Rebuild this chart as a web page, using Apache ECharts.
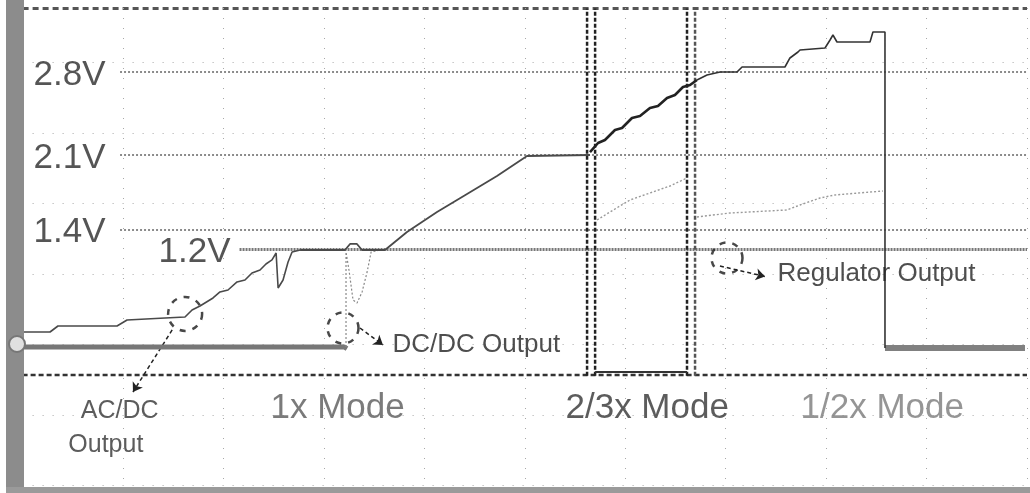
<!DOCTYPE html>
<html><head><meta charset="utf-8">
<script src="https://cdn.jsdelivr.net/npm/echarts@6/dist/echarts.min.js"></script>
<style>html,body{margin:0;padding:0;background:#fff}#c{width:1030px;height:493px}</style>
</head><body><div id="c"></div>
<script>
// x: horizontal screen divisions, y: vertical screen divisions (0 = lowest graticule line)
const gridX = [1, 2, 3, 4, 5, 6, 7, 8, 9, 10];
const gridY = [0, 1, 2, 3, 4, 5, 6];
const refNames = ['2.8V', '2.1V', '1.4V', '1.2V'];
const refLevels = [5.865, 4.688, 3.624, 3.355];
const refStart = [0.97, 0.97, 0.97, 2.16];
const floorLevel = 1.567;
const topLevel = 6.765;
const modeBounds = [5.62, 5.70, 6.615, 6.695];
const boxBottom = 1.61;

const acdcTrace = [[0,2.177],[0.273,2.177],[0.352,2.262],[0.94,2.262],[1.04,2.348],[1.418,2.376],[1.617,2.39],[1.687,2.489],[1.766,2.546],[1.896,2.66],[1.965,2.745],[2.045,2.773],[2.135,2.887],[2.214,2.915],[2.284,3.014],[2.364,3.057],[2.423,3.142],[2.483,3.199],[2.524,3.298],[2.544,2.801],[2.593,2.915],[2.643,3.17],[2.683,3.312],[2.763,3.34]];
const oneXTrace = [[2.763,3.34],[3.21,3.34],[3.26,3.426],[3.329,3.426],[3.379,3.34],[3.608,3.34],[3.827,3.596],[4.126,3.879],[4.425,4.135],[4.723,4.39],[5.022,4.674],[5.649,4.688]];
const twoThirdTrace = [[5.649,4.73],[5.729,4.858],[5.798,4.901],[5.898,5.043],[5.968,5.071],[6.067,5.213],[6.147,5.241],[6.246,5.355],[6.326,5.383],[6.416,5.496],[6.495,5.539],[6.575,5.652],[6.645,5.681],[6.714,5.752]];
const halfTrace = [[6.714,5.752],[6.814,5.823],[6.944,5.865],[7.113,5.865],[7.163,5.936],[7.59,5.936],[7.64,6.064],[7.72,6.149],[7.74,6.177],[7.989,6.206],[8.039,6.319],[8.068,6.39],[8.108,6.291],[8.437,6.291],[8.466,6.433],[8.586,6.433],[8.586,1.95]];
const secondTrace = [[5.719,3.766],[5.848,3.879],[6.047,4.05],[6.246,4.149],[6.445,4.248],[6.615,4.362],null,[6.714,3.809],[7.043,3.865],[7.61,3.908],[7.74,3.979],[7.939,4.078],[8.088,4.121],[8.566,4.177]];
const dcdcFlat = [[0,1.965],[3.2,1.965],[3.23,1.94]];
const dcdcStep = [[3.22,1.965],[3.22,3.312],[3.25,3.05],[3.29,2.63],[3.33,2.589],[3.38,2.745],[3.43,3.028],[3.47,3.312],[3.56,3.34]];
const regulatorLow = [[8.586,1.95],[9.98,1.95]];

const circleCenters = [[1.618,2.434],[3.19,2.234],[7.013,3.227]];
const circleSizes = [34, 31, 31];
const arrows = [[[1.489,2.206],[1.099,1.326]],[[3.359,2.234],[3.588,1.993]],[[6.943,3.113],[7.391,2.965]]];

const textNames = ['2.8V','2.1V','1.4V','1.2V','DC/DC Output','Regulator Output','AC/DC','Output','1x Mode','2/3x Mode','1/2x Mode'];
const textAnchors = [[0.104,5.823],[0.104,4.645],[0.104,3.596],[1.348,3.312],[3.678,1.993],[7.511,3.0],[0.575,1.057],[0.45,0.574],[2.463,1.099],[5.40,1.099],[7.74,1.099]];

const fontMain = 'Liberation Sans, Arial, sans-serif';
const textStyles = [
  {fontSize:35,color:'#2a2a2a'},{fontSize:35,color:'#2a2a2a'},{fontSize:35,color:'#2a2a2a'},{fontSize:35,color:'#2a2a2a'},
  {fontSize:26,color:'#222'},{fontSize:26,color:'#222'},
  {fontSize:25,color:'#333'},{fontSize:25,color:'#333'},
  {fontSize:35,color:'#5a5a5a'},{fontSize:35,color:'#333'},{fontSize:35,color:'#7a7a7a'}
];

function lineSeries(name, data, style, z) {
  return {name, type:'line', data, symbol:'none', silent:true, animation:false, z: z || 3,
    lineStyle: style, connectNulls:false};
}

const chart = echarts.init(document.getElementById('c'), null, {renderer:'canvas'});
const series = [];

// graticule
series.push({type:'line', data:[], silent:true, animation:false, z:1,
  markLine:{silent:true, symbol:'none', animation:false, label:{show:false},
    lineStyle:{color:'#a8a8a8', width:1, type:[1,9]},
    data: gridX.map(v=>({xAxis:v})).concat(gridY.map(v=>({yAxis:v})))}});

// reference level lines
series.push({type:'line', data:[], silent:true, animation:false, z:2,
  markLine:{silent:true, symbol:'none', animation:false, label:{show:false},
    data: refLevels.map((lv,i)=>[
      {coord:[refStart[i], lv], lineStyle: i===3 ? {color:'#777', width:3, type:[2,1]} : {color:'#666', width:1.5, type:[2,2]}},
      {coord:[10, lv]}])}});

// frame lines
series.push(lineSeries('floor', [[0,floorLevel],[10,floorLevel]], {color:'#333', width:2.5, type:[5,3]}, 4));
series.push(lineSeries('top', [[0,topLevel],[10,topLevel]], {color:'#555', width:3, type:[6,4]}, 4));
modeBounds.forEach((b,i)=>{
  series.push(lineSeries('bound'+i, [[b,floorLevel-0.01],[b,topLevel]], {color: i===3 ? '#555' : '#222', width:2.5, type:[4,2]}, 5));
});
series.push(lineSeries('boxBottom', [[modeBounds[1],boxBottom],[modeBounds[2],boxBottom]], {color:'#333', width:2}, 5));

// traces
series.push(lineSeries('DC/DC', dcdcFlat, {color:'#777', width:5}, 6));
series.push(lineSeries('DC/DC step', dcdcStep, {color:'#888', width:1.2, type:[2,2]}, 6));
series.push(lineSeries('AC/DC', acdcTrace, {color:'#4a4a4a', width:1.6}, 7));
series.push(lineSeries('1x', oneXTrace, {color:'#4a4a4a', width:1.8}, 7));
series.push(lineSeries('2/3x', twoThirdTrace, {color:'#222', width:2.6}, 7));
series.push(lineSeries('1/2x', halfTrace, {color:'#333', width:1.6}, 7));
series.push(lineSeries('second', secondTrace, {color:'#9a9a9a', width:1.4, type:[2,2]}, 6));
series.push(lineSeries('Regulator', regulatorLow, {color:'#808080', width:6}, 6));

// annotation circles
series.push({type:'scatter', silent:true, animation:false, z:8,
  data: circleCenters.map((c,i)=>({value:c, symbolSize:circleSizes[i]})),
  symbol:'circle',
  itemStyle:{color:'rgba(0,0,0,0)', borderColor:'#1a1a1a', borderWidth:2.5, borderType:[6,7]}});

// arrows
series.push({type:'line', data:[], silent:true, animation:false, z:8,
  markLine:{silent:true, animation:false, symbol:['none','arrow'], symbolSize:9, label:{show:false},
    lineStyle:{color:'#222', width:1.5, type:[4,3]},
    data: arrows.map(a=>[{coord:a[0]},{coord:a[1]}])}});

// text annotations
series.push({type:'scatter', silent:true, animation:false, z:9, symbol:'circle', symbolSize:1,
  itemStyle:{color:'rgba(0,0,0,0)'},
  data: textNames.map((t,i)=>({name:t, value:textAnchors[i],
    label:{show:true, position:'right', distance:0, formatter:'{b}', fontFamily:fontMain,
      fontSize:textStyles[i].fontSize, color:textStyles[i].color}}))});

chart.setOption({
  backgroundColor:'#fff',
  animation:false,
  grid:{left:22.6, right:3, top:6.1, bottom:4, containLabel:false},
  xAxis:{type:'value', min:0, max:10, show:false},
  yAxis:{type:'value', min:-0.05, max:6.8, show:false},
  graphic:[
    {type:'rect', shape:{x:6, y:0, width:18, height:493}, style:{fill:'#8c8c8c'}, z:100},
    {type:'rect', shape:{x:6, y:487, width:1024, height:6}, style:{fill:'#9a9a9a'}, z:100},
    {type:'circle', shape:{cx:17, cy:344, r:8}, style:{fill:'#e0e0e0', stroke:'#777', lineWidth:2}, z:101}
  ],
  series
});
</script></body></html>
